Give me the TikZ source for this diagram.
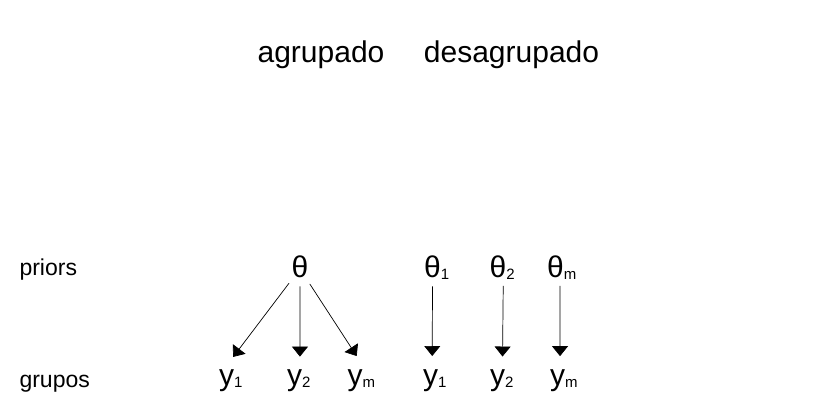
\documentclass[tikz,border=0pt]{standalone}
\usepackage{fontspec}
\setmainfont{Liberation Sans}
\usetikzlibrary{arrows.meta}
\newcommand{\idx}[1]{\rlap{\raisebox{-2pt}[0pt][0pt]{\fontsize{15}{15}\selectfont #1}}}
\begin{document}
\begin{tikzpicture}[x=1pt,y=-1pt,
  head/.style={anchor=base,font=\fontsize{30}{36}\selectfont},
  side/.style={anchor=base west,font=\fontsize{23}{28}\selectfont},
  par/.style={circle,inner sep=0pt,minimum size=40pt,anchor=base,font=\fontsize{30}{36}\selectfont},
  obs/.style={circle,inner sep=0pt,minimum size=48pt,anchor=base,font=\fontsize{30}{36}\selectfont},
  link/.style={-{Triangle[width=16pt,length=10pt]},line width=0.7pt}]
\useasboundingbox (0,0) rectangle (840,420);
\node[head] (pooled) at (321,63) {agrupado};
\node[head] (unpooled) at (511.5,63) {desagrupado};
\node[side] (priors) at (16,275) {priors};
\node[side] (groups) at (16,387) {grupos};
% agrupado
\node[par] (th) at (300,277) {θ};
\node[obs] (ya) at (226.5,385) {y\idx{1}};
\node[obs] (yb) at (294.5,385) {y\idx{2}};
\node[obs] (yc) at (355,385) {y\idx{m}};
\draw[link] (th.237) -- (ya.74);
\draw[link] (th.270) -- (yb.77);
\draw[link] (th.299) -- (yc.86);
% desagrupado
\node[par] (ta) at (432.5,277) {θ\idx{1}};
\node[par] (tb) at (498,277) {θ\idx{2}};
\node[par] (tc) at (555.5,277) {θ\idx{m}};
\node[obs] (za) at (430.5,385) {y\idx{1}};
\node[obs] (zb) at (497.5,385) {y\idx{2}};
\node[obs] (zc) at (557.5,385) {y\idx{m}};
\draw[link] (ta.270) -- (za.86);
\draw[link] (tb.285) -- (zb.78);
\draw[link] (tc.283) -- (zc.84);
\end{tikzpicture}
\end{document}
